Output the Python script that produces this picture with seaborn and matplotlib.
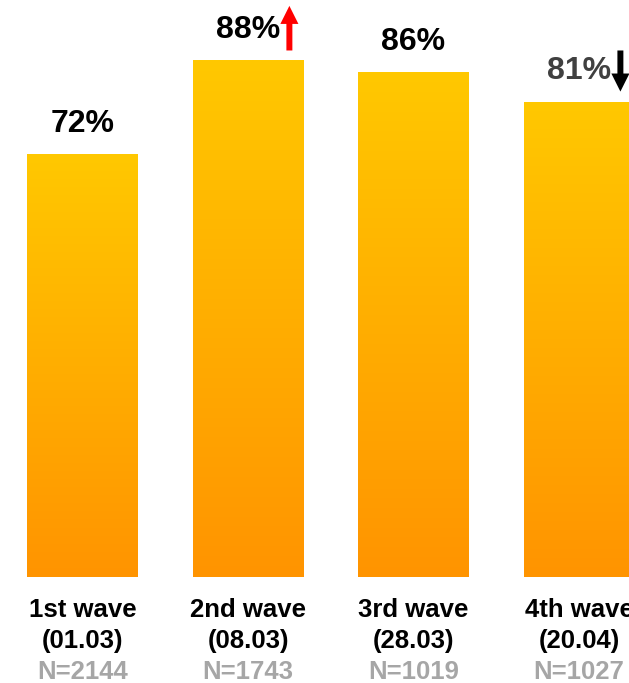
import numpy as np
import pandas as pd
import matplotlib
matplotlib.use("Agg")
import matplotlib.pyplot as plt
import seaborn as sns
from matplotlib.colors import LinearSegmentedColormap

waves = ["1st wave", "2nd wave", "3rd wave", "4th wave"]
dates = ["(01.03)", "(08.03)", "(28.03)", "(20.04)"]
sizes = ["N=2144", "N=1743", "N=1019", "N=1027"]
values = [72, 88, 86, 81]
label_colors = ["#000000", "#000000", "#000000", "#404040"]
trend = [0, 1, 0, -1]          # +1 up arrow, -1 down arrow
trend_colors = {1: "#FF0000", -1: "#000000"}

sns.set_theme(style="white")
plt.rcParams["font.family"] = ["Liberation Sans", "DejaVu Sans"]

df = pd.DataFrame({"wave": waves, "value": values})

fig = plt.figure(figsize=(6.29, 6.83), dpi=100)
ax = fig.add_axes([0, 106 / 683, 1, 577 / 683])

sns.barplot(data=df, x="wave", y="value", color="#FFB000", width=0.67, ax=ax,
            saturation=1)

ax.axis("off")

cmap = LinearSegmentedColormap.from_list("grad", ["#FF9400", "#FFC800"])
grad = np.linspace(0, 1, 256).reshape(-1, 1)
for p in ax.patches:
    x0, y0 = p.get_x(), p.get_y()
    w, h = p.get_width(), p.get_height()
    p.set_facecolor("none")
    p.set_edgecolor("none")
    im = ax.imshow(grad, cmap=cmap, origin="lower", aspect="auto",
                   extent=[x0, x0 + w, y0, y0 + h], zorder=2)
    im.set_clip_path(p)

ax.set_xlim(-0.4985, 3.302)
ax.set_ylim(0, 98.3)

for i, v in enumerate(values):
    ax.annotate(f"{v}%", xy=(i, v), xytext=(0, 11), textcoords="offset points",
                ha="center", va="bottom", fontsize=23, fontweight="bold",
                color=label_colors[i])
    if trend[i] != 0:
        if trend[i] > 0:
            tail, tip = v + 1.7, v + 9.3
        else:
            tail, tip = v + 8.7, v + 1.7
        ax.annotate("", xy=(i + 0.25, tip), xytext=(i + 0.25, tail),
                    arrowprops=dict(arrowstyle="simple,head_length=13,head_width=13,tail_width=4.3",
                                    mutation_scale=1, color=trend_colors[trend[i]],
                                    shrinkA=0, shrinkB=0, lw=0))

trans = ax.get_xaxis_transform()
for i in range(len(waves)):
    ax.text(i, -33 / 577, waves[i], transform=trans, ha="center", va="center",
            fontsize=18.5, fontweight="bold", color="#000000")
    ax.text(i, -64 / 577, dates[i], transform=trans, ha="center", va="center",
            fontsize=18.5, fontweight="bold", color="#000000")
    ax.text(i, -95 / 577, sizes[i], transform=trans, ha="center", va="center",
            fontsize=18.5, fontweight="bold", color="#A6A6A6")

fig.savefig("out.png", dpi=100)
